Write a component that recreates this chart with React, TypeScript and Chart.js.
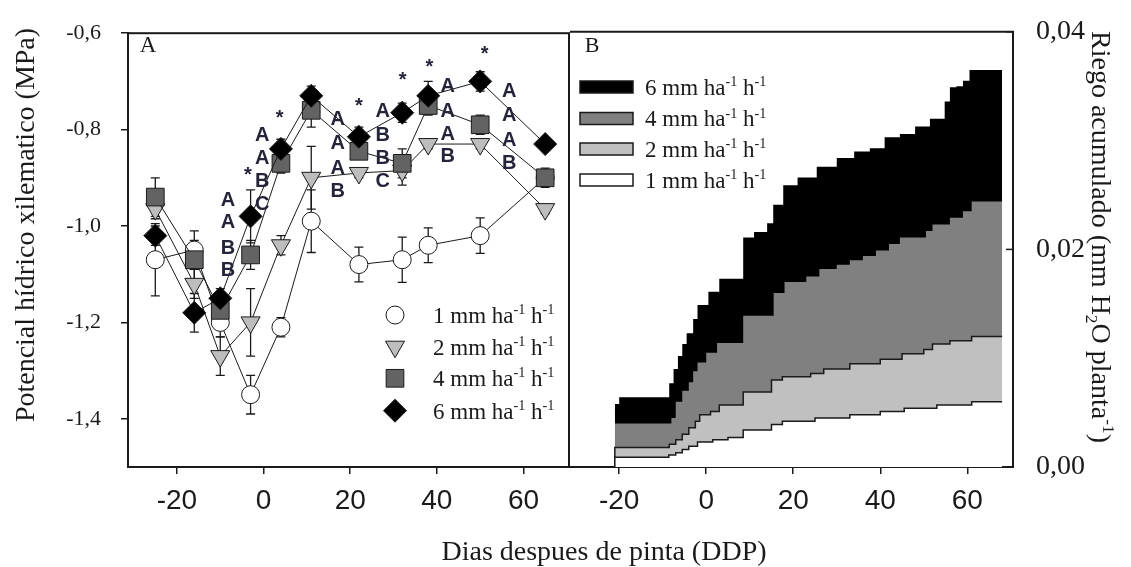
import React, { useEffect, useRef } from 'react';
import { Chart, registerables } from 'chart.js';

Chart.register(...registerables);

const W = 1131;
const H = 567;
const SERIF = '"Liberation Serif", "Times New Roman", serif';
const SANS = '"Liberation Sans", Arial, sans-serif';
const INK = '#1a1a1a';

// ---------- Panel A: xylem water potential (MPa) ----------
const diasA = [-25, -16, -10, -3, 4, 11, 22, 32, 38, 50, 65];
const psi1mm = [-1.07, -1.05, -1.2, -1.35, -1.21, -0.99, -1.08, -1.07, -1.04, -1.02, -0.9];
const err1mm = [0.075, 0.04, 0.03, 0.04, 0.02, 0.065, 0.036, 0.047, 0.036, 0.037, 0.015];
const psi2mm = [-0.965, -1.12, -1.27, -1.2, -1.04, -0.9, -0.89, -0.885, -0.83, -0.83, -0.965];
const err2mm = [0.02, 0.03, 0.04, 0.07, 0.02, 0.065, 0.01, 0.03, 0.01, 0.01, 0.01];
const psi4mm = [-0.94, -1.07, -1.175, -1.06, -0.87, -0.76, -0.845, -0.87, -0.75, -0.79, -0.9];
const err4mm = [0.04, 0.04, 0.02, 0.03, 0.02, 0.035, 0.015, 0.03, 0.02, 0.02, 0.02];
const psi6mm = [-1.02, -1.18, -1.15, -0.98, -0.84, -0.73, -0.815, -0.765, -0.73, -0.7, -0.83];
const err6mm = [0.02, 0.04, 0.02, 0.055, 0.02, 0.02, 0.02, 0.02, 0.03, 0.02, 0.01];

const treatments = ['1', '2', '4', '6'];

const letterDays = [-8.2, -0.3, 17.1, 27.5, 42.5, 56.7];
const letterRows = [
  ['A', 'A', 'B', 'B'],
  ['A', 'A', 'B', 'C'],
  ['A', 'A', 'A', 'B'],
  ['A', 'B', 'B', 'C'],
  ['A', 'A', 'A', 'B'],
  ['A', 'A', 'A', 'B'],
];
const letterPsi = [
  [-0.944, -0.99, -1.043, -1.088],
  [-0.808, -0.857, -0.904, -0.952],
  [-0.775, -0.826, -0.877, -0.925],
  [-0.758, -0.809, -0.857, -0.904],
  [-0.707, -0.758, -0.806, -0.853],
  [-0.718, -0.768, -0.819, -0.867],
];
const starDays = [-3.6, 3.7, 22, 32.1, 38.3, 51];
const starPsi = [-0.884, -0.765, -0.741, -0.687, -0.66, -0.633];

// ---------- Panel B: accumulated irrigation ----------
const riegoDays1 = [-21, -8.6, -7, -5.5, -4, -2, 1.5, 5, 8.5, 15, 17.5, 25, 33, 40, 45.5, 53, 61, 68];
const riego1 = [0.0009, 0.0011, 0.0013, 0.0016, 0.0019, 0.0023, 0.0025, 0.0027, 0.0034, 0.0039, 0.0042, 0.0045, 0.0048, 0.0051, 0.0054, 0.0057, 0.006, 0.006];
const riegoDays2 = [-21, -8.5, -7, -5.5, -4, -2.5, -1.5, 1, 3, 8.5, 15, 17.5, 24, 27, 33, 40, 45, 50, 52, 56, 61, 68];
const riego2 = [0.0018, 0.0021, 0.0025, 0.003, 0.0036, 0.0042, 0.0048, 0.0051, 0.0057, 0.0069, 0.008, 0.0083, 0.0086, 0.009, 0.0095, 0.0099, 0.0104, 0.0108, 0.0113, 0.0116, 0.012, 0.012];
const riegoDays4 = [-21, -8, -7, -5.5, -4, -3, -2, 0, 2.5, 8.5, 15.5, 18, 23, 26, 30, 33, 36, 39, 42, 44.5, 50.5, 52, 56, 59, 61, 68];
const riego4 = [0.004, 0.0045, 0.006, 0.007, 0.0078, 0.0088, 0.0096, 0.0105, 0.0114, 0.0139, 0.016, 0.017, 0.0175, 0.0182, 0.0186, 0.019, 0.0194, 0.0199, 0.0205, 0.0211, 0.0217, 0.0223, 0.0229, 0.0235, 0.0244, 0.0244];
const riegoDays6 = [-21, -20, -8.5, -7.5, -6.5, -5.5, -4.5, -3, -2, 0.5, 3, 8.5, 11, 14, 15.4, 17.7, 21, 25.4, 30, 34, 37.6, 41, 44.5, 48, 51.4, 54.8, 56, 57.5, 59, 60.5, 68];
const riego6 = [0.0058, 0.0064, 0.0077, 0.009, 0.0102, 0.0113, 0.0123, 0.0136, 0.0149, 0.0161, 0.0173, 0.0211, 0.0216, 0.0224, 0.0241, 0.0259, 0.0266, 0.0276, 0.0284, 0.029, 0.0293, 0.0303, 0.0306, 0.0313, 0.032, 0.0336, 0.0349, 0.035, 0.0355, 0.0365, 0.0365];

const xTicks = [-20, 0, 20, 40, 60];
const yTicksA = [-1.4, -1.2, -1.0, -0.8, -0.6];
const yTicksB = [0, 0.02, 0.04];
const X_MIN = -31.3;
const X_MAX = 70.5;

// ---------- layout (page pixels) ----------
const TOP = 25;
const BOTTOM = 467;
const A_LEFT = 128;
const A_RIGHT = 569;
const B_LEFT = 570;
const B_RIGHT = 1013;

type Part = { t: string; s?: 'sup' | 'sub' };

function richWidth(ctx: CanvasRenderingContext2D, parts: Part[], size: number, family: string) {
  let w = 0;
  for (const p of parts) {
    ctx.font = `${p.s ? size * 0.62 : size}px ${family}`;
    w += ctx.measureText(p.t).width;
  }
  return w;
}

function drawRich(ctx: CanvasRenderingContext2D, parts: Part[], x: number, y: number, size: number, family: string, center = false) {
  const w = richWidth(ctx, parts, size, family);
  let cx = center ? x - w / 2 : x;
  ctx.textAlign = 'left';
  ctx.textBaseline = 'alphabetic';
  for (const p of parts) {
    const fs = p.s ? size * 0.62 : size;
    ctx.font = `${fs}px ${family}`;
    const dy = p.s === 'sup' ? -size * 0.38 : p.s === 'sub' ? size * 0.2 : 0;
    ctx.fillText(p.t, cx, y + dy);
    cx += ctx.measureText(p.t).width;
  }
}

function unitParts(t: string): Part[] {
  return [{ t: `${t} mm ha` }, { t: '-1', s: 'sup' }, { t: ' h' }, { t: '-1', s: 'sup' }];
}

function marker(ctx: CanvasRenderingContext2D, style: string, x: number, y: number, r: number, fill: string) {
  ctx.beginPath();
  if (style === 'circle') ctx.arc(x, y, r, 0, Math.PI * 2);
  else if (style === 'triangle') {
    ctx.moveTo(x - r * 0.866, y - r * 0.5);
    ctx.lineTo(x + r * 0.866, y - r * 0.5);
    ctx.lineTo(x, y + r);
    ctx.closePath();
  } else if (style === 'rect') {
    const s = r * Math.SQRT1_2;
    ctx.rect(x - s, y - s, 2 * s, 2 * s);
  } else {
    ctx.moveTo(x - r, y);
    ctx.lineTo(x, y - r);
    ctx.lineTo(x + r, y);
    ctx.lineTo(x, y + r);
    ctx.closePath();
  }
  ctx.fillStyle = fill;
  ctx.fill();
  ctx.strokeStyle = INK;
  ctx.lineWidth = 1;
  ctx.stroke();
}

const seriesA = [
  { vals: psi1mm, errs: err1mm, style: 'circle', r: 9, fill: '#ffffff', order: 4, rot: 0 },
  { vals: psi2mm, errs: err2mm, style: 'triangle', r: 11, fill: '#bdbdbd', order: 3, rot: 180 },
  { vals: psi4mm, errs: err4mm, style: 'rect', r: 12.5, fill: '#636363', order: 2, rot: 0 },
  { vals: psi6mm, errs: err6mm, style: 'rectRot', r: 11.5, fill: '#000000', order: 1, rot: 0 },
];

const seriesB = [
  { days: riegoDays1, vals: riego1, fill: '#ffffff', line: 1.5, order: 1 },
  { days: riegoDays2, vals: riego2, fill: '#c0c0c0', line: 1.5, order: 2 },
  { days: riegoDays4, vals: riego4, fill: '#808080', line: 0, order: 3 },
  { days: riegoDays6, vals: riego6, fill: '#000000', line: 0, order: 4 },
];

const fmt = (v: number, d: number) => v.toFixed(d).replace('.', ',');

function xScale() {
  return {
    type: 'linear',
    min: X_MIN,
    max: X_MAX,
    afterBuildTicks: (s: any) => {
      s.ticks = xTicks.map((v) => ({ value: v }));
    },
    afterFit: (s: any) => {
      s.height = H - BOTTOM;
    },
    ticks: {
      font: { family: SANS, size: 28 },
      color: INK,
      padding: 10,
      autoSkip: false,
      maxRotation: 0,
      callback: (v: any) => String(v),
    },
    grid: { drawOnChartArea: false, drawTicks: true, tickLength: 7, color: INK, lineWidth: 1.5 },
    border: { display: true, color: INK, width: 2 },
  };
}

const pluginA = {
  id: 'panelA',
  beforeDatasetsDraw(chart: any) {
    const { ctx, scales } = chart;
    ctx.save();
    ctx.strokeStyle = INK;
    ctx.lineWidth = 1.3;
    seriesA.forEach((s) => {
      s.vals.forEach((v, i) => {
        const px = scales.x.getPixelForValue(diasA[i]);
        const y1 = scales.y.getPixelForValue(v + s.errs[i]);
        const y2 = scales.y.getPixelForValue(v - s.errs[i]);
        ctx.beginPath();
        ctx.moveTo(px, y1);
        ctx.lineTo(px, y2);
        ctx.moveTo(px - 4.5, y1);
        ctx.lineTo(px + 4.5, y1);
        ctx.moveTo(px - 4.5, y2);
        ctx.lineTo(px + 4.5, y2);
        ctx.stroke();
      });
    });
    ctx.restore();
  },
  afterDatasetsDraw(chart: any) {
    const { ctx, scales } = chart;
    ctx.save();
    ctx.fillStyle = '#24243a';
    ctx.textAlign = 'center';
    ctx.textBaseline = 'alphabetic';
    ctx.font = `bold 20px ${SANS}`;
    letterDays.forEach((d, c) => {
      const px = scales.x.getPixelForValue(d);
      letterRows[c].forEach((t, k) => {
        const py = scales.y.getPixelForValue(letterPsi[c][k]);
        ctx.fillText(t, px, py + 7.2);
      });
    });
    starDays.forEach((d, i) => {
      const px = scales.x.getPixelForValue(d);
      const py = scales.y.getPixelForValue(starPsi[i]);
      ctx.fillText('*', px, py + 11);
    });
    ctx.restore();
  },
  afterDraw(chart: any) {
    const { ctx, chartArea } = chart;
    ctx.save();
    ctx.strokeStyle = INK;
    ctx.lineWidth = 2;
    ctx.strokeRect(chartArea.left, chartArea.top, chartArea.right - chartArea.left, chartArea.bottom - chartArea.top);
    ctx.fillStyle = INK;
    ctx.font = `23px ${SERIF}`;
    ctx.textAlign = 'center';
    ctx.textBaseline = 'middle';
    ctx.fillText('A', 148, 46);
    const rows = [315, 346.7, 378.3, 410.7];
    seriesA.forEach((s, i) => {
      marker(ctx, s.style, 395, rows[i], s.r, s.fill);
      ctx.fillStyle = INK;
      drawRich(ctx, unitParts(treatments[i]), 433, rows[i] + 7.8, 23, SERIF);
    });
    ctx.save();
    ctx.translate(25, 225);
    ctx.rotate(-Math.PI / 2);
    drawRich(ctx, [{ t: 'Potencial hídrico xilematico (MPa)' }], 0, 9, 28, SERIF, true);
    ctx.restore();
    drawRich(ctx, [{ t: 'Dias despues de pinta (DDP)' }], 604, 560, 28, SERIF, true);
    ctx.restore();
  },
};

const pluginB = {
  id: 'panelB',
  afterDraw(chart: any) {
    const { ctx, chartArea, scales } = chart;
    ctx.save();
    ctx.strokeStyle = INK;
    ctx.lineWidth = 2;
    ctx.beginPath();
    ctx.moveTo(chartArea.left, chartArea.top);
    ctx.lineTo(chartArea.right, chartArea.top);
    ctx.lineTo(chartArea.right, chartArea.bottom);
    ctx.stroke();
    ctx.lineWidth = 1.5;
    yTicksB.forEach((v) => {
      const py = scales.y.getPixelForValue(v);
      ctx.beginPath();
      ctx.moveTo(chartArea.right - 7, py);
      ctx.lineTo(chartArea.right, py);
      ctx.stroke();
    });
    ctx.fillStyle = INK;
    ctx.font = `22px ${SERIF}`;
    ctx.textAlign = 'center';
    ctx.textBaseline = 'middle';
    ctx.fillText('B', 592, 46);
    const rows = [87, 118.5, 149, 180];
    [3, 2, 1, 0].forEach((si, k) => {
      const s = seriesB[si];
      ctx.fillStyle = s.fill;
      ctx.fillRect(580, rows[k] - 6, 53, 12);
      ctx.strokeStyle = INK;
      ctx.lineWidth = 1.5;
      ctx.strokeRect(580, rows[k] - 6, 53, 12);
      ctx.fillStyle = INK;
      drawRich(ctx, unitParts(treatments[si]), 645, rows[k] + 7.8, 23, SERIF);
    });
    ctx.save();
    ctx.translate(1101, 237);
    ctx.rotate(Math.PI / 2);
    drawRich(
      ctx,
      [{ t: 'Riego acumulado (mm H' }, { t: '2', s: 'sub' }, { t: 'O planta' }, { t: '-1', s: 'sup' }, { t: ')' }],
      0,
      9,
      28,
      SERIF,
      true
    );
    ctx.restore();
    ctx.restore();
  },
};

function configA(): any {
  return {
    type: 'line',
    data: {
      datasets: seriesA.map((s, i) => ({
        label: treatments[i],
        data: diasA.map((d, k) => ({ x: d, y: s.vals[k] })),
        borderColor: INK,
        borderWidth: 1,
        tension: 0,
        fill: false,
        pointStyle: s.style,
        pointRadius: s.r,
        pointHoverRadius: s.r,
        pointRotation: s.rot,
        pointBackgroundColor: s.fill,
        pointBorderColor: INK,
        pointBorderWidth: 1,
        order: s.order,
        clip: false,
      })),
    },
    options: {
      responsive: false,
      animation: false,
      events: [],
      layout: { padding: { left: 0, right: W - A_RIGHT, top: TOP, bottom: 0 } },
      plugins: { legend: { display: false }, tooltip: { enabled: false } },
      scales: {
        x: xScale(),
        y: {
          type: 'linear',
          min: -1.5,
          max: -0.6,
          afterBuildTicks: (s: any) => {
            s.ticks = yTicksA.map((v) => ({ value: v }));
          },
          afterFit: (s: any) => {
            s.width = A_LEFT;
          },
          ticks: {
            font: { family: SERIF, size: 22 },
            color: INK,
            padding: 20,
            callback: (v: any) => fmt(Number(v), 1),
          },
          grid: { drawOnChartArea: false, drawTicks: true, tickLength: 7, color: INK, lineWidth: 1.5 },
          border: { display: true, color: INK, width: 2 },
        },
      },
    },
    plugins: [pluginA],
  };
}

function configB(): any {
  return {
    type: 'line',
    data: {
      datasets: seriesB.map((s, i) => ({
        label: treatments[i],
        data: [{ x: s.days[0], y: 0 }, ...s.days.map((d, k) => ({ x: d, y: s.vals[k] }))],
        stepped: true,
        borderColor: INK,
        borderWidth: s.line,
        backgroundColor: s.fill,
        fill: 'origin',
        pointRadius: 0,
        pointHoverRadius: 0,
        order: s.order,
      })),
    },
    options: {
      responsive: false,
      animation: false,
      events: [],
      layout: { padding: { left: B_LEFT, right: 0, top: TOP, bottom: 0 } },
      plugins: { legend: { display: false }, tooltip: { enabled: false } },
      scales: {
        x: xScale(),
        y: {
          type: 'linear',
          position: 'right',
          min: 0,
          max: 0.04,
          afterBuildTicks: (s: any) => {
            s.ticks = yTicksB.map((v) => ({ value: v }));
          },
          afterFit: (s: any) => {
            s.width = W - B_RIGHT;
          },
          ticks: {
            font: { family: SERIF, size: 28 },
            color: INK,
            padding: 15,
            callback: (v: any) => fmt(Number(v), 2),
          },
          grid: { display: false },
          border: { display: true, color: INK, width: 2 },
        },
      },
    },
    plugins: [pluginB],
  };
}

export default function App() {
  const refA = useRef<HTMLCanvasElement>(null);
  const refB = useRef<HTMLCanvasElement>(null);
  useEffect(() => {
    const a = new Chart(refA.current as HTMLCanvasElement, configA());
    const b = new Chart(refB.current as HTMLCanvasElement, configB());
    return () => {
      a.destroy();
      b.destroy();
    };
  }, []);
  return (
    <div style={{ position: 'fixed', left: 0, top: 0, width: W, height: H, background: '#ffffff' }}>
      <canvas ref={refA} width={W} height={H} style={{ position: 'absolute', left: 0, top: 0 }} />
      <canvas ref={refB} width={W} height={H} style={{ position: 'absolute', left: 0, top: 0 }} />
    </div>
  );
}
